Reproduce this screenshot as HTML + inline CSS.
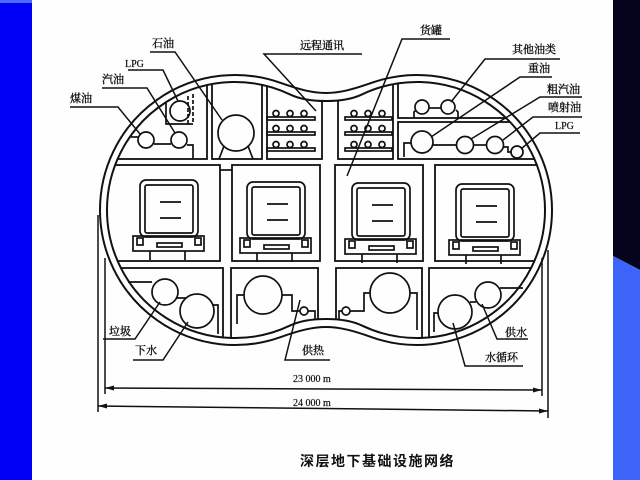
<!DOCTYPE html>
<html><head><meta charset="utf-8"><style>
html,body{margin:0;padding:0;background:#fff;}
svg{display:block;}
.t{font-family:"Liberation Serif","Noto Serif CJK SC",serif;font-size:11px;fill:#111;stroke:#111;stroke-width:0.35px;}
.n{font-family:"Liberation Serif",serif;font-size:10px;fill:#111;stroke:#111;stroke-width:0.2px;}
</style></head><body>
<svg width="640" height="480" viewBox="0 0 640 480" xmlns="http://www.w3.org/2000/svg">
<defs>
<clipPath id="inner"><path d="M290,94.42 C308.4,103.2 343.6,103.2 362,94.42 A128,128 0 1 1 362,325.58 C343.6,316.8 308.4,316.8 290,325.58 A128,128 0 1 1 290,94.42 Z"/></clipPath>
<g id="mon">
  <rect x="0" y="0" width="58" height="57" rx="6"/>
  <rect x="5" y="5" width="48" height="48" rx="2"/>
  <line x1="20" y1="22" x2="41" y2="22"/>
  <line x1="20" y1="38" x2="41" y2="38"/>
  <rect x="-7" y="56" width="71" height="15"/>
  <rect x="-3" y="58" width="6" height="7"/>
  <rect x="55" y="58" width="6" height="7"/>
  <rect x="17" y="63" width="25" height="4"/>
  <line x1="10" y1="71" x2="10" y2="80"/>
  <line x1="45" y1="71" x2="45" y2="80"/>
</g>
</defs>
<rect width="640" height="480" fill="#fefefe"/>
<rect x="0" y="0" width="32" height="480" fill="#0000f6"/>
<rect x="0" y="0" width="32" height="3" fill="#4a6af8"/>
<polygon points="613,0 640,0 640,270 613,256" fill="#04041c"/>
<polygon points="613,256 640,270 640,480 613,480" fill="#3c64f8"/>

<g fill="none" stroke="#111" stroke-width="2">
  <path d="M280,82.72 C318.7,96.4 333.3,96.4 372,82.72 A135,135 0 1 1 372,337.28 C333.3,323.6 318.7,323.6 280,337.28 A135,135 0 1 1 280,82.72 Z"/>
  <path d="M290,94.42 C308.4,103.2 343.6,103.2 362,94.42 A128,128 0 1 1 362,325.58 C343.6,316.8 308.4,316.8 290,325.58 A128,128 0 1 1 290,94.42 Z"/>
</g>

<g fill="none" stroke="#111" stroke-width="1.8" clip-path="url(#inner)">
  <rect x="60" y="40" width="147" height="119"/>
  <rect x="212" y="40" width="50" height="119"/>
  <rect x="267" y="40" width="55" height="119"/>
  <rect x="338" y="40" width="55" height="119"/>
  <rect x="398" y="40" width="220" height="78"/>
  <rect x="398" y="122" width="220" height="37"/>
  <rect x="60" y="165" width="160" height="96"/>
  <rect x="232" y="165" width="88" height="96"/>
  <rect x="335" y="165" width="88" height="96"/>
  <rect x="435" y="165" width="180" height="96"/>
  <rect x="60" y="268" width="163" height="140"/>
  <rect x="231" y="268" width="87" height="140"/>
  <rect x="336" y="268" width="86" height="140"/>
  <rect x="429" y="268" width="190" height="140"/>
</g>

<g fill="none" stroke="#111" stroke-width="1.7">
  <!-- T1 -->
  <circle cx="180" cy="111" r="10"/>
  <polyline points="166,102 166,124 193,124"/>
  <line x1="188" y1="96" x2="188" y2="124" stroke-dasharray="4,2"/>
  <line x1="193" y1="94" x2="193" y2="124" stroke-dasharray="4,2"/>
  <circle cx="146" cy="140" r="8"/>
  <circle cx="179" cy="140" r="8"/>
  <line x1="154" y1="144" x2="171" y2="144"/>
  <line x1="131" y1="137" x2="138" y2="137"/>
  <polyline points="187,145 193,145 193,159"/>
  <!-- T2 -->
  <circle cx="236" cy="133" r="18"/>
  <line x1="224" y1="146" x2="219" y2="159"/>
  <line x1="248" y1="146" x2="253" y2="159"/>
  <!-- shelves -->
  <rect x="267" y="117" width="48" height="3"/>
  <rect x="267" y="132" width="48" height="3"/>
  <rect x="267" y="148" width="48" height="3"/>
  <circle cx="276" cy="113.5" r="3"/><circle cx="290" cy="113.5" r="3"/><circle cx="304" cy="113.5" r="3"/>
  <circle cx="276" cy="128.5" r="3"/><circle cx="290" cy="128.5" r="3"/><circle cx="304" cy="128.5" r="3"/>
  <circle cx="276" cy="144.5" r="3"/><circle cx="290" cy="144.5" r="3"/><circle cx="304" cy="144.5" r="3"/>
  <rect x="345" y="117" width="47" height="3"/>
  <rect x="345" y="132" width="47" height="3"/>
  <rect x="345" y="148" width="47" height="3"/>
  <circle cx="354" cy="113.5" r="3"/><circle cx="368" cy="113.5" r="3"/><circle cx="382" cy="113.5" r="3"/>
  <circle cx="354" cy="128.5" r="3"/><circle cx="368" cy="128.5" r="3"/><circle cx="382" cy="128.5" r="3"/>
  <circle cx="354" cy="144.5" r="3"/><circle cx="368" cy="144.5" r="3"/><circle cx="382" cy="144.5" r="3"/>
  <!-- T5a -->
  <circle cx="422" cy="107" r="7"/>
  <circle cx="448" cy="107" r="7"/>
  <line x1="429" y1="108" x2="441" y2="108"/>
  <polyline points="414,118 414,112 416,110"/>
  <polyline points="456,110 458,112 458,118"/>
  <!-- T5b -->
  <circle cx="422" cy="142" r="11"/>
  <circle cx="465" cy="145" r="8.5"/>
  <circle cx="495" cy="145" r="8.5"/>
  <circle cx="517" cy="152" r="6"/>
  <line x1="433" y1="145" x2="456.5" y2="145"/>
  <line x1="473.5" y1="145" x2="486.5" y2="145"/>
  <polyline points="503,147 508,147 508,152 511,152"/>
  <polyline points="404,157 404,143 411,143"/>
  <!-- corridor cap -->
  <line x1="220" y1="170" x2="232" y2="170"/>
  <!-- monitors -->
  <use href="#mon" x="140" y="180"/>
  <use href="#mon" x="247" y="182"/>
  <use href="#mon" x="352" y="183"/>
  <use href="#mon" x="456" y="184"/>
  <!-- B1 -->
  <circle cx="165" cy="292" r="13"/>
  <circle cx="197" cy="311" r="17"/>
  <line x1="128" y1="282" x2="152" y2="282"/>
  <line x1="177" y1="298" x2="186" y2="298"/>
  <polyline points="212,305 218,305 218,334"/>
  <!-- B2 -->
  <circle cx="263" cy="295" r="19"/>
  <polyline points="244,295 237,295 237,324"/>
  <polyline points="282,295 292,295 292,311 300,311"/>
  <circle cx="304" cy="311" r="4"/>
  <polyline points="308,311 315,311 315,320"/>
  <!-- B3 -->
  <circle cx="390" cy="293" r="20"/>
  <polyline points="410,293 417,293 417,330"/>
  <polyline points="370,293 364,293 364,311 350,311"/>
  <circle cx="346" cy="311" r="4"/>
  <polyline points="342,311 339,311 339,320"/>
  <!-- B4 -->
  <circle cx="455" cy="312" r="17"/>
  <circle cx="488" cy="295" r="13"/>
  <line x1="470" y1="302" x2="476" y2="302"/>
  <polyline points="438,313 434,313 434,332"/>
  <line x1="500" y1="288" x2="523" y2="288"/>
</g>

<!-- leaders -->
<g fill="none" stroke="#111" stroke-width="1.5">
  <polyline points="150,52 175,52 222,120"/>
  <polyline points="128,70 163,70 178,101"/>
  <polyline points="102,88 147,88 175,133"/>
  <polyline points="70,107 118,107 140,134"/>
  <polyline points="362,54 264,54 316,111"/>
  <polyline points="450,39 402,39 347,176"/>
  <polyline points="560,59 485,59 451,102"/>
  <polyline points="552,77 520,77 431,137"/>
  <polyline points="582,97 540,97 471,139"/>
  <polyline points="582,117 533,117 503,140"/>
  <polyline points="580,133 540,133 521,149"/>
  <polyline points="103,339 135,339 160,302"/>
  <polyline points="133,360 163,360 188,322"/>
  <polyline points="330,360 285,360 300,300"/>
  <polyline points="528,339 497,339 482,304"/>
  <polyline points="523,366 465,366 453,323"/>
  <!-- dimensions -->
  <line x1="98" y1="215" x2="98" y2="412"/>
  <line x1="105" y1="258" x2="105" y2="394"/>
  <line x1="542" y1="258" x2="542" y2="396"/>
  <line x1="548" y1="250" x2="548" y2="418"/>
  <line x1="105" y1="388" x2="542" y2="390"/>
  <line x1="98" y1="406" x2="548" y2="411"/>
</g>
<g fill="#111">
  <polygon points="105,388 114,385.5 114,390.5"/>
  <polygon points="542,390 533,387.5 533,392.5"/>
  <polygon points="98,406 107,403.5 107,408.5"/>
  <polygon points="548,411 539,408.5 539,413.5"/>
</g>

<!-- labels -->
<text class="t" x="152" y="47">石油</text>
<text class="n" x="125" y="67">LPG</text>
<text class="t" x="102" y="83">汽油</text>
<text class="t" x="70" y="102">煤油</text>
<text class="t" x="300" y="49">远程通讯</text>
<text class="t" x="420" y="34">货罐</text>
<text class="t" x="512" y="53">其他油类</text>
<text class="t" x="528" y="72">重油</text>
<text class="t" x="547" y="93">粗汽油</text>
<text class="t" x="548" y="111">喷射油</text>
<text class="n" x="555" y="129">LPG</text>
<text class="t" x="109" y="335">垃圾</text>
<text class="t" x="135" y="354">下水</text>
<text class="t" x="302" y="354">供热</text>
<text class="t" x="505" y="336">供水</text>
<text class="t" x="485" y="361">水循环</text>
<text class="n" x="293" y="382">23 000 m</text>
<text class="n" x="293" y="406">24 000 m</text>
<text x="300" y="466" style="font-family:'Liberation Sans','Noto Sans CJK SC',sans-serif;font-size:14px;font-weight:bold;letter-spacing:1.5px;fill:#111;">深层地下基础设施网络</text>
</svg>
</body></html>
